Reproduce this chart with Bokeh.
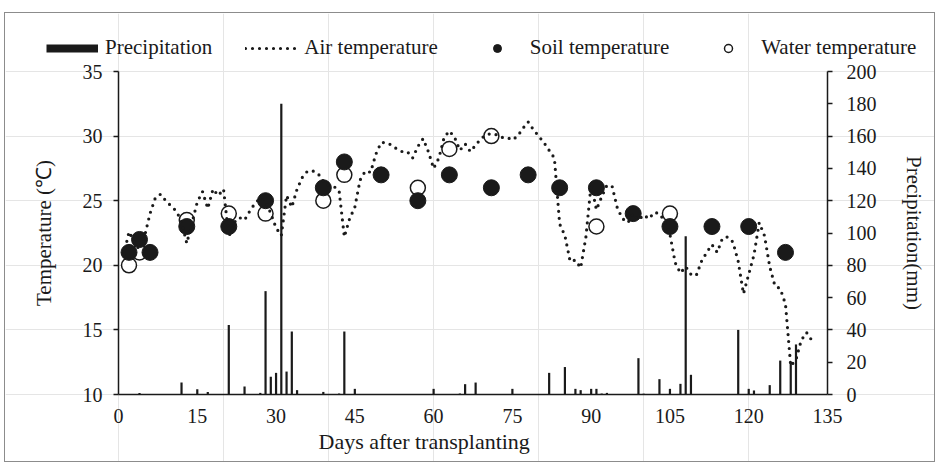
from bokeh.plotting import figure
from bokeh.models import Range1d, LinearAxis, Legend, LegendItem, FixedTicker, Label
from bokeh.embed import file_html
from bokeh.resources import INLINE

FONT = "Liberation Serif"
INK = "#1a1a1a"

# ---------------- data ----------------
x_ticks = [0, 15, 30, 45, 60, 75, 90, 105, 120, 135]
temp_ticks = [10, 15, 20, 25, 30, 35]
precip_ticks = [0, 20, 40, 60, 80, 100, 120, 140, 160, 180, 200]

precip_days = [4, 12, 15, 17, 21, 24, 27, 28, 29, 30,
               31, 32, 33, 34, 39, 42, 43, 45, 60, 65,
               66, 68, 75, 82, 85, 87, 88, 90, 91, 92,
               93, 99, 100, 103, 105, 107, 108, 109, 118, 120,
               121, 124, 126, 128, 129]
precip_mm = [1, 7.4, 3.3, 1.6, 43, 5, 1, 64, 11, 13.4,
             180, 14.2, 39, 2.7, 1.6, 0.6, 39, 3.5, 3.5, 0.6,
             6.4, 7.4, 3.5, 13.4, 17, 3.5, 2.7, 3.5, 3.5, 0.6,
             1, 22.5, 0.5, 9.5, 3.5, 6.6, 98, 12.2, 40, 3.5,
             2.5, 5.8, 21, 20, 31]

air_days = list(range(1, 133))
air_temp = [20.8, 22.6, 21.8, 21.2, 22.3, 24.0, 25.2, 25.5, 25.0, 24.6,
            24.2, 23.4, 21.7, 23.3, 24.9, 25.7, 24.4, 25.9, 25.4, 25.9,
            22.2, 23.3, 23.7, 23.5, 24.2, 24.8, 25.2, 25.0, 24.0, 22.9,
            22.3, 25.4, 24.5, 25.9, 26.8, 27.3, 27.3, 27.1, 26.5, 26.2,
            26.1, 25.8, 22.2, 23.6, 24.5, 26.6, 27.3, 27.2, 28.6, 29.5,
            29.5, 29.3, 29.0, 28.8, 28.8, 28.3, 29.2, 29.8, 28.8, 27.5,
            28.3, 29.9, 30.4, 29.9, 28.9, 29.4, 28.8, 29.3, 29.8, 30.1,
            30.2, 30.1, 29.9, 29.9, 29.7, 30.0, 30.6, 31.1, 30.5, 30.0,
            29.5, 28.9, 28.3, 23.2, 22.3, 20.3, 20.4, 19.8, 22.2, 26.3,
            24.3, 25.3, 26.2, 26.1, 24.4, 23.6, 23.3, 24.0, 23.5, 23.9,
            23.6, 24.1, 24.0, 23.4, 22.4, 20.2, 19.4, 19.9, 19.3, 19.2,
            20.3, 21.0, 21.6, 21.0, 22.1, 22.2, 21.8, 20.3, 17.8, 19.3,
            20.8, 23.3, 22.3, 19.9, 18.4, 18.2, 17.0, 12.2, 12.7, 14.2,
            14.8, 14.2]

soil_days = [2, 4, 6, 13, 21, 28, 39, 43, 50, 57, 63, 71, 78, 84, 91, 98, 105, 113, 120, 127]
soil_temp = [21, 22, 21, 23, 23, 25, 26, 28, 27, 25, 27, 26, 27, 26, 26, 24, 23, 23, 23, 21]

water_days = [2, 4, 13, 21, 28, 39, 43, 57, 63, 71, 91, 105]
water_temp = [20, 21, 23.5, 24, 24, 25, 27, 26, 29, 30, 23, 24]

# ---------------- geometry (canvas pixels) ----------------
W, H = 929, 448
AX_L, AX_R = 113, 822      # x = 0 and x = 135
AX_T, AX_B = 58, 381       # temp 35 and temp 10
X0, X1 = 0, 135
T0, T1 = 10, 35
P0, P1 = 0, 200

xs = (AX_R - AX_L) / (X1 - X0)
ts = (AX_B - AX_T) / (T1 - T0)
ps = (AX_B - AX_T) / (P1 - P0)
x_range = Range1d(X0 - AX_L / xs, X0 + (W - AX_L) / xs)
y_range = Range1d(T0 - (H - AX_B) / ts, T1 + AX_T / ts)
p_range = Range1d(P0 - (H - AX_B) / ps, P1 + AX_T / ps)

p = figure(width=W, height=H, output_backend="svg", toolbar_location=None,
           x_range=x_range, y_range=y_range,
           x_axis_location=None, y_axis_location=None,
           min_border=0, background_fill_color="white", border_fill_color="white")
p.styles = {"margin-left": "5px", "margin-top": "13px", "outline": "1px solid #8c8c8c"}
p.outline_line_color = None
p.extra_y_ranges = {"pr": p_range}

bars = p.vbar(x=precip_days, top=precip_mm, bottom=0, width=0.42, y_range_name="pr",
              fill_color=INK, line_color=None)
water = p.scatter(water_days, water_temp, marker="circle", size=15,
                  fill_color="white", line_color=INK, line_width=1.5)
soil = p.scatter(soil_days, soil_temp, marker="circle", size=16,
                 fill_color=INK, line_color=INK)
air = p.line(air_days, air_temp, line_color=INK, line_width=3.2,
             line_dash="0 7", line_cap="round", line_join="round")
# swatch used only by the legend entry of the precipitation bars
pr_leg = p.line([float("nan")], [float("nan")], line_color=INK, line_width=8)

# ---------------- axes ----------------
def style_axis(ax):
    ax.axis_line_color = INK
    ax.axis_line_width = 1.5
    ax.major_tick_line_color = INK
    ax.major_tick_line_width = 1.5
    ax.minor_tick_line_color = None
    ax.major_label_text_font = FONT
    ax.major_label_text_font_size = "20px"
    ax.major_label_text_color = INK
    ax.axis_label_text_font = FONT
    ax.axis_label_text_font_size = "21px"
    ax.axis_label_text_font_style = "normal"
    ax.axis_label_text_color = INK

xa = LinearAxis(fixed_location=T0, bounds=(X0, X1), ticker=FixedTicker(ticks=x_ticks))
style_axis(xa)
xa.major_tick_out = 0
xa.major_tick_in = 0
xa.major_label_standoff = 14
p.add_layout(xa, "below")

ya = LinearAxis(fixed_location=X0, bounds=(T0, T1), ticker=FixedTicker(ticks=temp_ticks),
                axis_label="Temperature (℃)")
style_axis(ya)
ya.major_tick_out = 5
ya.major_tick_in = 0
ya.major_label_standoff = 11
ya.axis_label_standoff = 24
p.add_layout(ya, "left")

ra = LinearAxis(fixed_location=X1, y_range_name="pr", bounds=(P0, P1),
                ticker=FixedTicker(ticks=precip_ticks), axis_label="Precipitation(mm)")
style_axis(ra)
ra.major_tick_out = 5
ra.major_tick_in = 0
ra.major_label_standoff = 14
ra.axis_label_standoff = 22
p.add_layout(ra, "right")

p.add_layout(Label(x=313, y=20, x_units="screen", y_units="screen",
                   text="Days after transplanting", text_font=FONT,
                   text_font_size="22px", text_color=INK, text_baseline="middle"))

# ---------------- legend ----------------
legend = Legend(items=[LegendItem(label="Precipitation", renderers=[pr_leg]),
                       LegendItem(label="Air temperature", renderers=[air]),
                       LegendItem(label="Soil temperature", renderers=[soil]),
                       LegendItem(label="Water temperature", renderers=[water])],
                location=(41, 401), orientation="horizontal",
                glyph_width=52, glyph_height=20, label_height=20,
                label_standoff=7, padding=0, margin=0, spacing=33,
                border_line_color=None, background_fill_alpha=0,
                label_text_font=FONT, label_text_font_size="21px",
                label_text_color=INK)
p.add_layout(legend)

open("out.html", "w").write(file_html(p, INLINE))
